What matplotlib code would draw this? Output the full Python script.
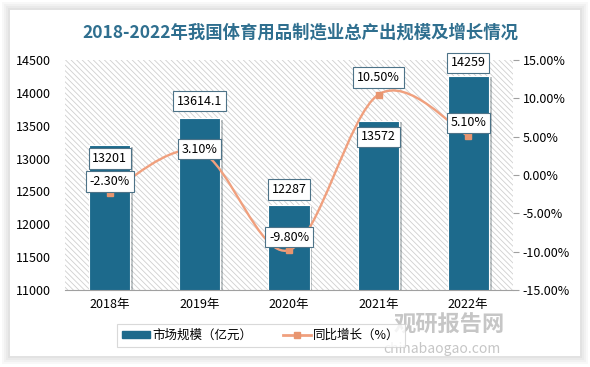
import matplotlib
matplotlib.use('Agg')
import matplotlib.pyplot as plt
from matplotlib.path import Path
from matplotlib.patches import PathPatch, Rectangle
from matplotlib.lines import Line2D
from matplotlib.ticker import FuncFormatter, MultipleLocator
import matplotlib.patheffects as pe

plt.rcParams['font.family'] = ['Noto Sans CJK SC', 'DejaVu Sans']
plt.rcParams['hatch.color'] = '#cfcfcf'
plt.rcParams['hatch.linewidth'] = 0.6

# 数据
years = ['2018年', '2019年', '2020年', '2021年', '2022年']
scale = [13201, 13614.1, 12287, 13572, 14259]
scale_labels = ['13201', '13614.1', '12287', '13572', '14259']
growth = [-2.30, 3.10, -9.80, 10.50, 5.10]

# 标签偏移（像素）
scale_off = [-13, 17, 16, -16, 13]
growth_off = [11, 2, 13, 17, 13]

BAR_COLOR = '#1d6a8c'
LINE_COLOR = '#f0a07e'
MARK_COLOR = '#e8956f'

fig = plt.figure(figsize=(5.9, 3.67), dpi=100)
fig.patch.set_facecolor('white')

# 卡片阴影
for i, a in enumerate([0.05, 0.05, 0.06, 0.07]):
    d = (4 - i) * 2
    fig.patches.append(Rectangle(((10 - d) / 590, 1 - (356 + d) / 367), (570 + 2 * d) / 590,
                                 (346 + 2 * d) / 367, transform=fig.transFigure,
                                 facecolor='#808080', edgecolor='none', alpha=a, zorder=-5))
fig.patches.append(Rectangle((10 / 590, 1 - 356 / 367), 570 / 590, 346 / 367,
                             transform=fig.transFigure, facecolor='white',
                             edgecolor='none', zorder=-4))

ax = fig.add_axes([65 / 590, 77 / 367, 448 / 590, 230 / 367])
ax.set_facecolor('none')
ax.add_patch(Rectangle((0, 0), 1, 1, transform=ax.transAxes, facecolor='white',
                       edgecolor='#cfcfcf', linewidth=0, hatch='\\\\\\\\\\\\', zorder=0))

x = list(range(len(years)))
bars = ax.bar(x, scale, width=0.46, color=BAR_COLOR, edgecolor='white', linewidth=0.8,
              zorder=2, label='市场规模（亿元）')
for b in bars:
    b.set_path_effects([pe.SimplePatchShadow(offset=(2, -1), alpha=0.25), pe.Normal()])

ax.set_xlim(-0.5, len(years) - 0.5)
ax.set_ylim(11000, 14500)
ax.yaxis.set_major_locator(MultipleLocator(500))
ax.set_xticks(x)
ax.set_xticklabels(years)
for s in ['top', 'left', 'right']:
    ax.spines[s].set_visible(False)
ax.spines['bottom'].set_color('#a0a0a0')
ax.tick_params(axis='x', length=0, labelsize=9, pad=6)
ax.tick_params(axis='y', length=0, labelsize=9, pad=10)

ax2 = ax.twinx()
ax2.set_ylim(-15, 15)
ax2.yaxis.set_major_locator(MultipleLocator(5))
ax2.yaxis.set_major_formatter(FuncFormatter(lambda v, p: f'{v:.2f}%'))
for s in ['top', 'left', 'right', 'bottom']:
    ax2.spines[s].set_visible(False)
ax2.tick_params(axis='y', length=4, color='#a0a0a0', labelsize=9, pad=3)

# 平滑曲线（Catmull-Rom 转贝塞尔）
verts = [(x[0], growth[0])]
codes = [Path.MOVETO]
n = len(x)
for i in range(n - 1):
    p0 = (x[max(i - 1, 0)], growth[max(i - 1, 0)])
    p1 = (x[i], growth[i])
    p2 = (x[i + 1], growth[i + 1])
    p3 = (x[min(i + 2, n - 1)], growth[min(i + 2, n - 1)])
    c1 = (p1[0] + (p2[0] - p0[0]) / 6, p1[1] + (p2[1] - p0[1]) / 6)
    c2 = (p2[0] - (p3[0] - p1[0]) / 6, p2[1] - (p3[1] - p1[1]) / 6)
    verts += [c1, c2, p2]
    codes += [Path.CURVE4] * 3
ax2.add_patch(PathPatch(Path(verts, codes), facecolor='none', edgecolor=LINE_COLOR,
                        linewidth=1.7, zorder=3))
ax2.plot(x, growth, linestyle='none', marker='s', markersize=5, color=MARK_COLOR, zorder=4)

box = dict(boxstyle='square,pad=0.3', facecolor='white', edgecolor='#4d7388', linewidth=0.8)
for i in x:
    ax.annotate(scale_labels[i], (i, scale[i]), xytext=(0, scale_off[i]),
                textcoords='offset pixels', ha='center', va='center', fontsize=9,
                bbox=box, zorder=6, annotation_clip=False)
    ax2.annotate(f'{growth[i]:.2f}%', (i, growth[i]), xytext=(0, growth_off[i]),
                 textcoords='offset pixels', ha='center', va='center', fontsize=9,
                 bbox=box, zorder=6, annotation_clip=False)

fig.text(300 / 590, 1 - 33 / 367, '2018-2022年我国体育用品制造业总产出规模及增长情况',
         ha='center', va='center', fontsize=12.5, fontweight='bold', color='#2f6f8f')

# 图例
handles = [Rectangle((0, 0), 1, 1, color=BAR_COLOR),
           Line2D([0], [0], color=LINE_COLOR, lw=2, marker='s', markersize=5,
                  markerfacecolor=MARK_COLOR, markeredgecolor=MARK_COLOR)]
leg = fig.legend(handles, ['市场规模（亿元）', '同比增长（%）'], loc='center',
                 bbox_to_anchor=(261 / 590, 1 - 335 / 367), ncol=2, fontsize=9,
                 frameon=True, fancybox=False, edgecolor='#d0d0d0', handlelength=2.2,
                 handleheight=0.5, handletextpad=0.2, columnspacing=2.5, borderpad=0.4)
leg.get_frame().set_linewidth(0.8)

# 水印
fig.text(505 / 590, 1 - 325 / 367, '观研报告网', ha='right', va='center', fontsize=16,
         fontweight='bold', color='#b8b8b8', alpha=0.8)
fig.text(500 / 590, 1 - 349 / 367, 'chinabaogao.com', ha='right', va='center', fontsize=10,
         color='#b8b8b8', alpha=0.8)

fig.savefig('out.png', dpi=100)
